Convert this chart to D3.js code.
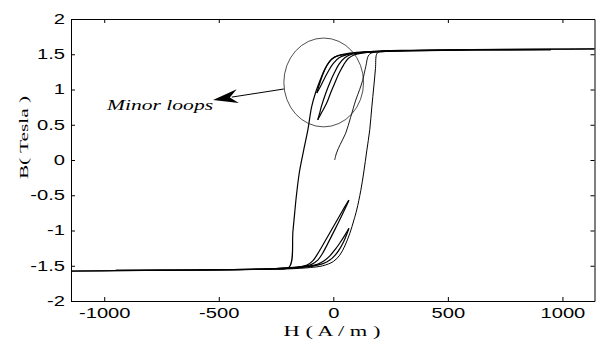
<!DOCTYPE html>
<html>
<head>
<meta charset="utf-8">
<script src="https://cdn.jsdelivr.net/npm/d3@7"></script>
<style>
  body { margin: 0; background: #fff; }
  svg { display: block; }
</style>
</head>
<body>
<svg id="chart" width="596" height="344"></svg>
<script>
// [H (A/m), B (Tesla)] pairs
const initialCurve = [[6,0.0],[14,0.1],[30,0.22],[54,0.38],[75,0.6],[98,0.85],[115,1.0],[128,1.13],[142,1.33],[155,1.49],[180,1.53],[300,1.55]];

const majorDescending = [[1140,1.575],[950,1.572],[600,1.565],[300,1.555],[150,1.535],[58,1.5],[6,1.46],[-20,1.38],[-40,1.27],[-59,1.12],[-78,0.95],[-95,0.75],[-111,0.43],[-130,0.13],[-148,-0.17],[-161,-0.5],[-176,-1.0],[-193,-1.52],[-260,-1.545],[-400,-1.555],[-950,-1.57],[-1145,-1.575]];

const majorAscending = [[-1145,-1.575],[-950,-1.57],[-400,-1.555],[-200,-1.545],[-100,-1.525],[-46,-1.5],[0,-1.44],[28,-1.35],[50,-1.22],[72,-1.04],[90,-0.85],[102,-0.71],[120,-0.43],[133,-0.17],[146,0.13],[159,0.43],[168,0.75],[177,1.05],[184,1.3],[189,1.5],[200,1.535],[300,1.55],[600,1.565],[950,1.572],[1140,1.575]];

// minor loops near positive saturation
const upperLoopOuterDown = [[950,1.565],[600,1.56],[250,1.545],[120,1.52],[80,1.5],[50,1.45],[25,1.36],[5,1.24],[-16,1.09],[-35,0.93],[-52,0.76],[-60,0.66],[-68,0.57]];
const upperLoopOuterUp = [[-68,0.57],[-50,0.68],[-30,0.8],[-12,0.95],[6,1.09],[25,1.23],[45,1.35],[65,1.44],[90,1.49],[130,1.52],[250,1.545]];
const upperLoopInnerDown = [[950,1.565],[600,1.56],[250,1.545],[120,1.53],[60,1.51],[20,1.48],[-8,1.43],[-28,1.34],[-45,1.22],[-60,1.08],[-72,0.95]];
const upperLoopInnerUp = [[-72,0.95],[-55,1.05],[-38,1.16],[-20,1.27],[0,1.37],[25,1.45],[60,1.495],[120,1.525],[250,1.545]];

// minor loops near negative saturation
const lowerLoopOuterUp = [[-950,-1.565],[-600,-1.56],[-250,-1.54],[-160,-1.52],[-115,-1.49],[-90,-1.43],[-72,-1.35],[-50,-1.23],[-20,-1.06],[10,-0.89],[40,-0.72],[68,-0.57]];
const lowerLoopOuterDown = [[68,-0.57],[50,-0.7],[25,-0.87],[0,-1.03],[-25,-1.19],[-48,-1.33],[-68,-1.42],[-95,-1.48],[-140,-1.515],[-250,-1.54]];
const lowerLoopInnerUp = [[-950,-1.565],[-600,-1.56],[-200,-1.535],[-110,-1.51],[-70,-1.48],[-40,-1.43],[-15,-1.36],[10,-1.26],[30,-1.17],[50,-1.07],[68,-0.97]];
const lowerLoopInnerDown = [[68,-0.97],[58,-1.06],[45,-1.16],[28,-1.26],[8,-1.35],[-15,-1.42],[-45,-1.47],[-90,-1.505],[-200,-1.535]];

const xTicks = [-1000, -500, 0, 500, 1000];
const yTicks = [-2, -1.5, -1, -0.5, 0, 0.5, 1, 1.5, 2];

const svg = d3.select("#chart");
const plotLeft = 71, plotRight = 594.5, plotTop = 19, plotBottom = 301;
const stretch = 1.44;

const x = d3.scaleLinear().domain([-1145, 1140]).range([plotLeft, plotRight]);
const y = d3.scaleLinear().domain([-2, 2]).range([plotBottom, plotTop]);

function styleAxis(g) {
  g.attr("font-family", "'Liberation Sans', Arial, sans-serif").attr("font-size", 14);
  g.selectAll("path, line").attr("stroke", "#000").attr("stroke-width", 1);
}

svg.append("g")
  .attr("transform", `translate(0,${plotBottom})`)
  .call(d3.axisBottom(x).tickValues(xTicks).tickFormat(d => d).tickSizeInner(-4).tickSizeOuter(0).tickPadding(7))
  .call(styleAxis)
  .selectAll("text").attr("transform", `scale(${stretch},1)`);

svg.append("g")
  .attr("transform", `translate(${plotLeft},0)`)
  .call(d3.axisLeft(y).tickValues(yTicks).tickFormat(d => d).tickSizeInner(-4).tickSizeOuter(0))
  .call(styleAxis)
  .selectAll("text").attr("x", -6 / stretch).attr("transform", `scale(${stretch},1)`);

svg.append("g")
  .attr("transform", `translate(0,${plotTop})`)
  .call(d3.axisTop(x).tickValues(xTicks).tickSizeInner(-4).tickSizeOuter(0))
  .call(styleAxis)
  .selectAll("text").remove();

svg.append("g")
  .attr("transform", `translate(${plotRight},0)`)
  .call(d3.axisRight(y).tickValues(yTicks).tickSizeInner(-4).tickSizeOuter(0))
  .call(styleAxis)
  .selectAll("text").remove();

const line = d3.line()
  .x(d => x(d[0]))
  .y(d => y(d[1]))
  .curve(d3.curveCatmullRom.alpha(0.5));

const curves = [
  [initialCurve, 0.9],
  [majorAscending, 1],
  [majorDescending, 1.2],
  [upperLoopOuterDown, 1.2], [upperLoopOuterUp, 1.2],
  [upperLoopInnerDown, 1.2], [upperLoopInnerUp, 1.2],
  [lowerLoopOuterUp, 1.2], [lowerLoopOuterDown, 1.2],
  [lowerLoopInnerUp, 1.2], [lowerLoopInnerDown, 1.2]
];

svg.append("g").selectAll("path")
  .data(curves)
  .join("path")
  .attr("d", d => line(d[0]))
  .attr("fill", "none")
  .attr("stroke", "#000")
  .attr("stroke-width", d => d[1]);

// annotation: circle round the upper minor loops, arrow and label
const cx = x(-42), cy = y(1.10);
svg.append("ellipse")
  .attr("cx", cx).attr("cy", cy)
  .attr("rx", x(-42 + 174) - cx)
  .attr("ry", cy - y(1.10 + 0.63))
  .attr("fill", "none")
  .attr("stroke", "#222")
  .attr("stroke-width", 0.8);

const ax0 = x(-216), ay0 = y(1.007);
const ax1 = x(-525), ay1 = y(0.851);
const ang = Math.atan2(ay1 - ay0, ax1 - ax0) * 180 / Math.PI;
const headLen = 25;
const len = Math.hypot(ax1 - ax0, ay1 - ay0);

svg.append("line")
  .attr("x1", ax0).attr("y1", ay0)
  .attr("x2", ax0 + (ax1 - ax0) * (len - headLen + 6) / len)
  .attr("y2", ay0 + (ay1 - ay0) * (len - headLen + 6) / len)
  .attr("stroke", "#000")
  .attr("stroke-width", 1);

svg.append("path")
  .attr("d", `M0,0 L${-headLen},${-7} L${-headLen + 8},0 L${-headLen},7 Z`)
  .attr("transform", `translate(${ax1},${ay1}) rotate(${ang})`)
  .attr("fill", "#000");

svg.append("text")
  .attr("transform", `translate(${x(-988)},${y(0.709)}) scale(${stretch},1)`)
  .attr("font-family", "'Liberation Serif', 'Times New Roman', serif")
  .attr("font-style", "italic")
  .attr("font-size", 15)
  .text("Minor loops");

svg.append("text")
  .attr("transform", `translate(332,335.5) scale(1.5,1)`)
  .attr("text-anchor", "middle")
  .attr("font-family", "'Liberation Serif', 'Times New Roman', serif")
  .attr("font-size", 15)
  .text("H ( A / m )");

svg.append("text")
  .attr("transform", `translate(27.5,137.5) rotate(-90) scale(1.85,1)`)
  .attr("text-anchor", "middle")
  .attr("font-family", "'Liberation Serif', 'Times New Roman', serif")
  .attr("font-size", 11.5)
  .text("B( Tesla )");
</script>
</body>
</html>
